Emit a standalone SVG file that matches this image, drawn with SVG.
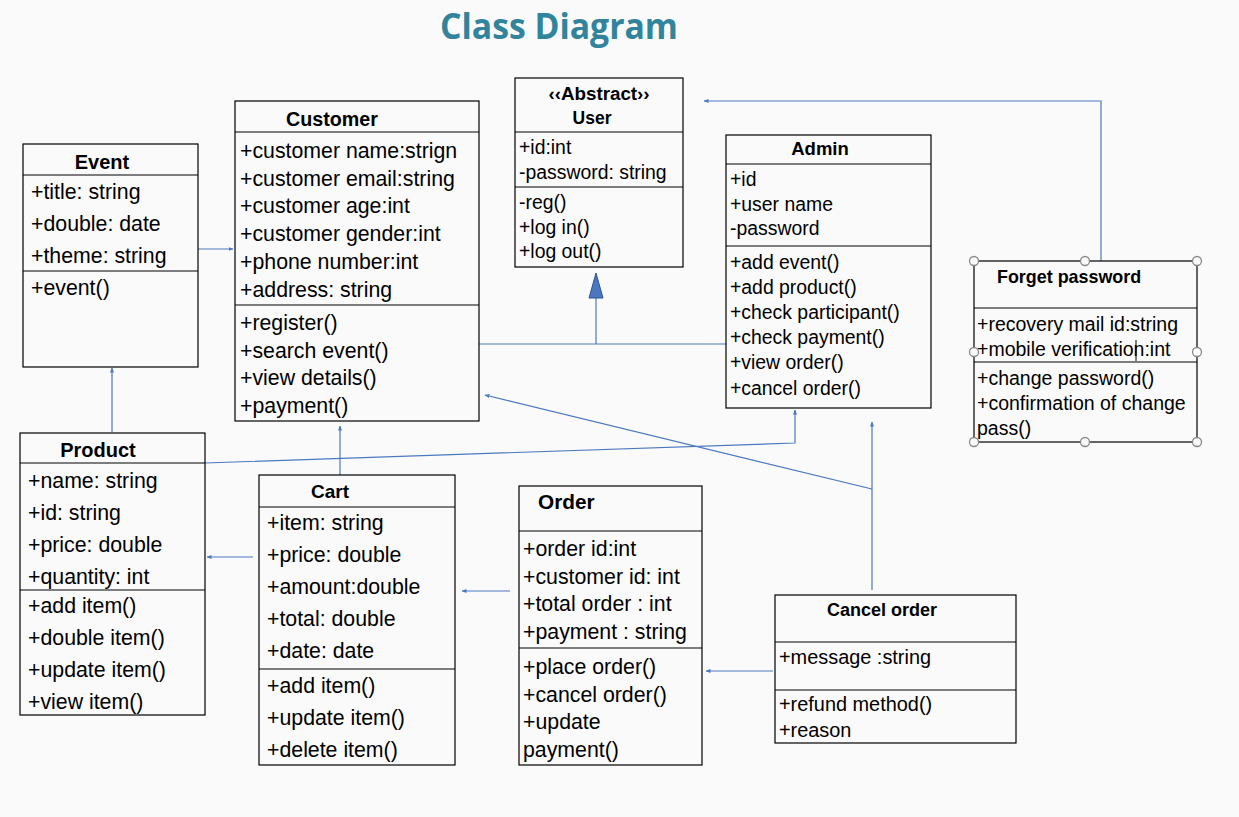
<svg xmlns="http://www.w3.org/2000/svg" width="1239" height="817" viewBox="0 0 1239 817">
<defs>
<style>
.bg{fill:#fafafa}
.box{fill:none;stroke:#000;stroke-width:1.2}
.div{stroke:#000;stroke-width:1.2}
.t{font-family:"Liberation Sans",Arial,sans-serif;font-size:18.5px;fill:#000}
.L{font-size:21.3px}
.M{font-size:19.4px}
.h{font-family:"Liberation Sans",Arial,sans-serif;font-size:17.5px;font-weight:bold;fill:#000}
.H{font-size:20px}
.con{fill:none;stroke:#4a78c0;stroke-width:1.2}
.hd{fill:#fafafa;stroke:#888;stroke-width:1.3}
</style>
<marker id="arr" viewBox="0 0 10 10" refX="9" refY="5" markerWidth="5" markerHeight="5" orient="auto" markerUnits="userSpaceOnUse">
<path d="M0,1 L10,5 L0,9 z" fill="#4a78c0"/>
</marker>
</defs>
<rect class="bg" x="0" y="0" width="1239" height="817"/>
<text x="559" y="39" text-anchor="middle" font-family="'Open Sans','Noto Sans',sans-serif" font-size="36" font-weight="bold" fill="#31849b" textLength="238" lengthAdjust="spacingAndGlyphs">Class Diagram</text>

<g id="connectors">
<line class="con" x1="198" y1="249" x2="233" y2="249" marker-end="url(#arr)"/>
<line class="con" x1="112" y1="432" x2="112" y2="368" marker-end="url(#arr)"/>
<line class="con" x1="340" y1="475" x2="340" y2="426" marker-end="url(#arr)"/>
<line class="con" x1="253" y1="557" x2="207" y2="557" marker-end="url(#arr)"/>
<line class="con" x1="510" y1="591" x2="462" y2="591" marker-end="url(#arr)"/>
<line class="con" x1="773" y1="671" x2="706" y2="671" marker-end="url(#arr)"/>
<line class="con" x1="479" y1="344" x2="726" y2="344"/>
<line class="con" x1="596" y1="344" x2="596" y2="298"/>
<path d="M596,273 L603,298 L589,298 z" fill="#4a78c0" stroke="#2f528f" stroke-width="1"/>
<polyline class="con" points="205,463 795,443 795,410" marker-end="url(#arr)"/>
<line class="con" x1="872" y1="590" x2="872" y2="422" marker-end="url(#arr)"/>
<line class="con" x1="872" y1="489" x2="485" y2="395" marker-end="url(#arr)"/>
<polyline class="con" points="1101,261 1101,101 704,101" marker-end="url(#arr)"/>
</g>

<g id="event">
<rect class="box" x="23" y="144" width="175" height="223"/>
<line class="div" x1="23" y1="175" x2="198" y2="175"/>
<line class="div" x1="23" y1="271" x2="198" y2="271"/>
<text class="h H" x="102" y="169" text-anchor="middle">Event</text>
<text class="t L" x="31" y="199">+title: string</text>
<text class="t L" x="31" y="231">+double: date</text>
<text class="t L" x="31" y="263">+theme: string</text>
<text class="t L" x="31" y="295">+event()</text>
</g>

<g id="customer">
<rect class="box" x="235" y="101" width="244" height="320"/>
<line class="div" x1="235" y1="132" x2="479" y2="132"/>
<line class="div" x1="235" y1="305" x2="479" y2="305"/>
<text class="h" x="332" y="126" text-anchor="middle" style="font-size:19.7px">Customer</text>
<text class="t L" x="240" y="158">+customer name:strign</text>
<text class="t L" x="240" y="186">+customer email:string</text>
<text class="t L" x="240" y="213">+customer age:int</text>
<text class="t L" x="240" y="241">+customer gender:int</text>
<text class="t L" x="240" y="269">+phone number:int</text>
<text class="t L" x="240" y="297">+address: string</text>
<text class="t L" x="240" y="330">+register()</text>
<text class="t L" x="240" y="358">+search event()</text>
<text class="t L" x="240" y="385">+view details()</text>
<text class="t L" x="240" y="413">+payment()</text>
</g>

<g id="user">
<rect class="box" x="515" y="78" width="168" height="189"/>
<line class="div" x1="515" y1="132" x2="683" y2="132"/>
<line class="div" x1="515" y1="187" x2="683" y2="187"/>
<text class="h" x="599" y="100" text-anchor="middle" style="font-size:18.8px">‹‹Abstract››</text>
<text class="h" x="592" y="124" text-anchor="middle">User</text>
<text class="t M" x="519" y="154">+id:int</text>
<text class="t M" x="519" y="179">-password: string</text>
<text class="t M" x="519" y="209">-reg()</text>
<text class="t M" x="519" y="234">+log in()</text>
<text class="t M" x="519" y="258">+log out()</text>
</g>

<g id="admin">
<rect class="box" x="726" y="135" width="205" height="273"/>
<line class="div" x1="726" y1="164" x2="931" y2="164"/>
<line class="div" x1="726" y1="246" x2="931" y2="246"/>
<text class="h" x="820" y="155" text-anchor="middle" style="font-size:18.5px">Admin</text>
<text class="t M" x="730" y="186">+id</text>
<text class="t M" x="730" y="211">+user name</text>
<text class="t M" x="730" y="235">-password</text>
<text class="t M" x="730" y="269">+add event()</text>
<text class="t M" x="730" y="294">+add product()</text>
<text class="t M" x="730" y="319">+check participant()</text>
<text class="t M" x="730" y="344">+check payment()</text>
<text class="t M" x="730" y="369">+view order()</text>
<text class="t M" x="730" y="395">+cancel order()</text>
</g>

<g id="forget-password">
<rect class="box" x="974" y="261" width="223" height="181"/>
<line class="div" x1="974" y1="308" x2="1197" y2="308"/>
<line class="div" x1="974" y1="362" x2="1197" y2="362"/>
<text class="h" x="997" y="283" style="font-size:17.9px">Forget password</text>
<text class="t" x="977" y="331" style="font-size:19.5px">+recovery mail id:string</text>
<text class="t" x="977" y="356" style="font-size:19.5px">+mobile verification:int</text>
<text class="t" x="977" y="385" style="font-size:19.5px">+change password()</text>
<text class="t" x="977" y="410" style="font-size:19.5px">+confirmation of change</text>
<text class="t" x="977" y="435" style="font-size:19.5px">pass()</text>
<line x1="1136" y1="340" x2="1136" y2="361" stroke="#000" stroke-width="1"/>
<circle class="hd" cx="974" cy="261" r="4.5"/>
<circle class="hd" cx="1085" cy="261" r="4.5"/>
<circle class="hd" cx="1197" cy="261" r="4.5"/>
<circle class="hd" cx="974" cy="352" r="4.5"/>
<circle class="hd" cx="1197" cy="352" r="4.5"/>
<circle class="hd" cx="974" cy="442" r="4.5"/>
<circle class="hd" cx="1085" cy="442" r="4.5"/>
<circle class="hd" cx="1197" cy="442" r="4.5"/>
</g>

<g id="product">
<rect class="box" x="20" y="433" width="185" height="282"/>
<line class="div" x1="20" y1="463" x2="205" y2="463"/>
<line class="div" x1="20" y1="590" x2="205" y2="590"/>
<text class="h H" x="98" y="457" text-anchor="middle">Product</text>
<text class="t L" x="28" y="488">+name: string</text>
<text class="t L" x="28" y="520">+id: string</text>
<text class="t L" x="28" y="552">+price: double</text>
<text class="t L" x="28" y="584">+quantity: int</text>
<text class="t L" x="28" y="613">+add item()</text>
<text class="t L" x="28" y="645">+double item()</text>
<text class="t L" x="28" y="677">+update item()</text>
<text class="t L" x="28" y="709">+view item()</text>
</g>

<g id="cart">
<rect class="box" x="259" y="475" width="196" height="290"/>
<line class="div" x1="259" y1="507" x2="455" y2="507"/>
<line class="div" x1="259" y1="669" x2="455" y2="669"/>
<text class="h" x="330" y="498" text-anchor="middle" style="font-size:19px">Cart</text>
<text class="t L" x="267" y="530">+item: string</text>
<text class="t L" x="267" y="562">+price: double</text>
<text class="t L" x="267" y="594">+amount:double</text>
<text class="t L" x="267" y="626">+total: double</text>
<text class="t L" x="267" y="658">+date: date</text>
<text class="t L" x="267" y="693">+add item()</text>
<text class="t L" x="267" y="725">+update item()</text>
<text class="t L" x="267" y="757">+delete item()</text>
</g>

<g id="order">
<rect class="box" x="519" y="486" width="183" height="279"/>
<line class="div" x1="519" y1="531" x2="702" y2="531"/>
<line class="div" x1="519" y1="648" x2="702" y2="648"/>
<text class="h" x="538" y="509" style="font-size:20.8px">Order</text>
<text class="t L" x="523" y="556">+order id:int</text>
<text class="t L" x="523" y="584">+customer id: int</text>
<text class="t L" x="523" y="611">+total order : int</text>
<text class="t L" x="523" y="639">+payment : string</text>
<text class="t L" x="523" y="674">+place order()</text>
<text class="t L" x="523" y="702">+cancel order()</text>
<text class="t L" x="523" y="729">+update</text>
<text class="t L" x="523" y="757">payment()</text>
</g>

<g id="cancel-order">
<rect class="box" x="775" y="595" width="241" height="148"/>
<line class="div" x1="775" y1="642" x2="1016" y2="642"/>
<line class="div" x1="775" y1="690" x2="1016" y2="690"/>
<text class="h" x="827" y="616" style="font-size:18px">Cancel order</text>
<text class="t" x="779" y="664" style="font-size:19.9px">+message :string</text>
<text class="t" x="779" y="711" style="font-size:19.9px">+refund method()</text>
<text class="t" x="779" y="737" style="font-size:19.9px">+reason</text>
</g>
</svg>
